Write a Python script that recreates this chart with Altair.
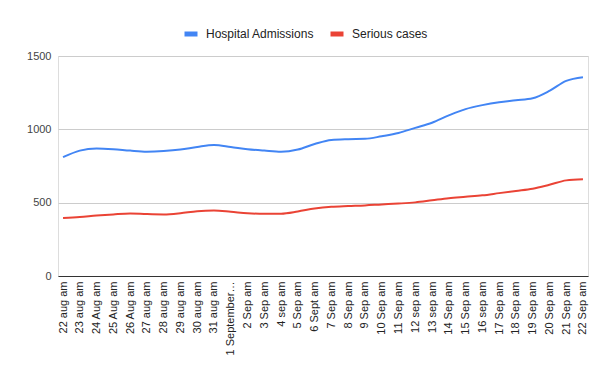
import altair as alt
import pandas as pd

dates = ["22 aug am", "23 aug am", "24 Aug am", "25 Aug am", "26 Aug am", "27 aug am",
         "28 aug am", "29 aug am", "30 aug am", "31 aug am", "1 September am", "2 Sep am",
         "3 Sep am", "4 sep am", "5 Sep am", "6 Sept am", "7 Sep am", "8 Sep am", "9 Sep am",
         "10 Sep am", "11 Sep am", "12 sep am", "13 sep am", "14 Sep am", "15 Sep am",
         "16 sep am", "17 Sep am", "18 Sep am", "19 Sep am", "20 Sep am", "21 Sep am",
         "22 Sep am"]

hospital = [810, 855, 870, 865, 855, 848, 852, 862, 880, 893, 880, 865, 855, 847, 862,
            900, 928, 933, 935, 953, 975, 1010, 1045, 1095, 1138, 1165, 1185, 1198,
            1212, 1262, 1330, 1355]

serious = [395, 402, 412, 420, 426, 422, 420, 428, 442, 446, 438, 428, 424, 425, 440,
           460, 472, 477, 481, 488, 494, 502, 516, 530, 540, 550, 565, 580, 595, 622,
           652, 660]

series_names = ["Hospital Admissions", "Serious cases"]
series_colors = ["#4285F4", "#EA4335"]

rows = []
for i, d in enumerate(dates):
    rows.append({"date": d, "order": i, "series": series_names[0], "value": hospital[i]})
    rows.append({"date": d, "order": i, "series": series_names[1], "value": serious[i]})
df = pd.DataFrame(rows)

font = "Liberation Sans"

chart = alt.Chart(df).mark_line(strokeWidth=2, interpolate="monotone").encode(
    x=alt.X("date:O", sort=dates, title=None,
            scale=alt.Scale(padding=0.3),
            axis=alt.Axis(labelAngle=-90, labelAlign="right", labelBaseline="middle",
                          labelFontSize=11, labelColor="#222", labelLimit=76,
                          labelPadding=5, ticks=False, domainColor="#333",
                          labelFont=font, labelOverlap=False)),
    y=alt.Y("value:Q", title=None,
            scale=alt.Scale(domain=[0, 1500], nice=False),
            axis=alt.Axis(values=[0, 500, 1000, 1500], format="d", labelFontSize=11,
                          labelColor="#444", labelPadding=7, ticks=False, domain=False,
                          gridColor="#ccc", labelFont=font)),
    color=alt.Color("series:N", title=None,
                    scale=alt.Scale(domain=series_names, range=series_colors),
                    legend=alt.Legend(orient="none", legendX=124, legendY=-31,
                                      direction="horizontal", symbolType="stroke",
                                      symbolStrokeWidth=5, symbolSize=169,
                                      labelFontSize=12, labelColor="#222", labelFont=font,
                                      columnPadding=5, labelOffset=6, padding=0)),
    order="order:Q",
).properties(
    width=530, height=220,
    autosize=alt.AutoSizeParams(type="none"),
    padding={"left": 50, "top": 48, "right": 18, "bottom": 95},
).configure_view(stroke=None).configure(background="white")

chart.save("out.html", embed_options={"renderer": "svg", "actions": False})
